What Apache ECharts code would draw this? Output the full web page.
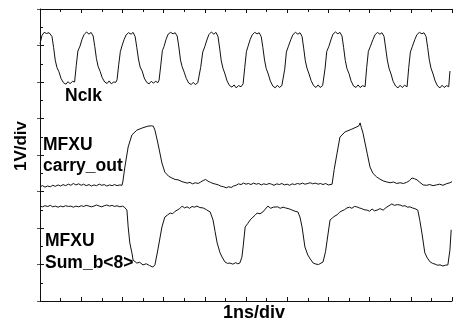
<!DOCTYPE html>
<html><head><meta charset="utf-8">
<script src="https://cdn.jsdelivr.net/npm/echarts@6/dist/echarts.min.js"></script>
<style>html,body{margin:0;padding:0;background:#fff}#c{width:453px;height:326px}</style>
</head><body><div id="c"></div>
<script>
// time in ns (1 ns/div), amplitude in V (1 V/div)
var timeRange = [0, 10];
var voltRange = [0, 8];
var xLabel = '1ns/div';
var yLabel = '1V/div';
var traceLabels = ['Nclk', 'MFXU', 'carry_out', 'MFXU', 'Sum_b<8>'];

var nclk = [
[0,7.05],[0.05,7.28],[0.1,7.36],[0.16,7.33],[0.22,7.35],[0.29,7.25],[0.33,6.95],[0.37,6.6],[0.41,6.4],[0.46,6.28],[0.51,6.1],[0.57,5.98],[0.63,5.94],[0.68,6.01],[0.73,5.95],[0.79,6.02],[0.84,6.0],
[0.88,6.45],[0.92,6.85],[0.97,6.98],[1.02,7.17],[1.07,7.3],[1.13,7.37],[1.19,7.31],[1.24,7.36],[1.29,7.26],[1.33,6.97],[1.37,6.64],[1.41,6.43],[1.46,6.29],[1.51,6.12],[1.57,6.0],[1.63,5.96],[1.68,6.03],[1.73,5.95],[1.79,6.0],[1.84,5.99],
[1.87,6.06],[1.91,6.47],[1.95,6.83],[1.99,6.99],[2.04,7.16],[2.09,7.29],[2.15,7.35],[2.21,7.31],[2.26,7.36],[2.31,7.24],[2.35,6.94],[2.39,6.63],[2.43,6.41],[2.48,6.3],[2.53,6.11],[2.59,5.99],[2.65,5.95],[2.7,6.02],[2.75,5.97],[2.81,6.02],[2.86,5.98],
[2.89,6.05],[2.93,6.44],[2.97,6.86],[3.01,6.97],[3.06,7.17],[3.11,7.31],[3.17,7.36],[3.23,7.32],[3.28,7.35],[3.33,7.26],[3.37,6.96],[3.41,6.6],[3.45,6.42],[3.5,6.27],[3.55,6.1],[3.61,5.97],[3.67,5.93],[3.72,5.99],[3.77,5.93],[3.83,5.98],[3.87,5.96],
[3.9,6.4],[3.95,6.82],[4.0,6.97],[4.05,7.15],[4.1,7.3],[4.16,7.37],[4.22,7.31],[4.27,7.36],[4.32,7.25],[4.36,6.93],[4.4,6.58],[4.44,6.38],[4.49,6.22],[4.54,6.03],[4.6,5.9],[4.66,5.86],[4.71,5.92],[4.76,5.84],[4.82,5.9],[4.88,5.87],
[4.93,5.95],[4.97,6.4],[5.01,6.83],[5.05,6.98],[5.1,7.16],[5.15,7.29],[5.21,7.36],[5.27,7.32],[5.32,7.35],[5.37,7.24],[5.41,6.94],[5.45,6.6],[5.49,6.37],[5.54,6.22],[5.59,6.03],[5.65,5.89],[5.71,5.84],[5.76,5.91],[5.81,5.85],[5.87,5.9],[5.91,5.88],
[5.94,6.35],[5.98,6.82],[6.03,6.98],[6.09,7.17],[6.14,7.3],[6.2,7.36],[6.26,7.31],[6.31,7.35],[6.36,7.25],[6.4,6.93],[6.44,6.58],[6.48,6.38],[6.53,6.22],[6.58,6.04],[6.64,5.9],[6.7,5.85],[6.75,5.92],[6.8,5.85],[6.86,5.9],[6.89,5.88],
[6.92,6.38],[6.96,6.84],[7.01,6.97],[7.06,7.15],[7.11,7.31],[7.17,7.37],[7.23,7.32],[7.28,7.36],[7.33,7.26],[7.37,6.94],[7.41,6.59],[7.45,6.37],[7.5,6.23],[7.55,6.03],[7.61,5.89],[7.67,5.85],[7.72,5.92],[7.77,5.85],[7.83,5.9],[7.89,5.87],
[7.93,6.4],[7.97,6.84],[8.02,6.98],[8.08,7.16],[8.13,7.29],[8.19,7.36],[8.25,7.31],[8.3,7.35],[8.35,7.25],[8.39,6.93],[8.43,6.6],[8.47,6.38],[8.52,6.22],[8.57,6.02],[8.63,5.89],[8.69,5.84],[8.74,5.91],[8.79,5.85],[8.85,5.91],[8.91,5.87],
[8.95,6.4],[8.99,6.82],[9.04,6.98],[9.1,7.17],[9.15,7.3],[9.21,7.36],[9.27,7.32],[9.32,7.35],[9.37,7.25],[9.41,6.94],[9.45,6.6],[9.49,6.38],[9.54,6.22],[9.59,6.03],[9.65,5.89],[9.71,5.84],[9.76,5.91],[9.81,5.85],[9.87,5.9],[9.92,5.87],[9.95,6.3]
];

var carryOut = [
[0,3.13],[0.06,3.16],[0.12,3.12],[0.18,3.15],[0.25,3.13],[0.31,3.17],[0.37,3.14],[0.44,3.18],[0.5,3.15],[0.56,3.19],[0.62,3.16],[0.69,3.2],[0.75,3.17],[0.81,3.22],[0.87,3.18],[0.94,3.21],[1.0,3.17],[1.06,3.2],[1.12,3.16],[1.19,3.19],[1.25,3.15],[1.31,3.18],[1.37,3.16],[1.44,3.2],[1.5,3.17],[1.56,3.19],[1.62,3.15],[1.69,3.18],[1.75,3.16],[1.81,3.19],[1.87,3.16],[1.94,3.18],[1.99,3.17],
[2.01,3.26],[2.06,3.67],[2.14,4.22],[2.23,4.55],[2.35,4.68],[2.48,4.74],[2.62,4.79],[2.7,4.8],[2.75,4.79],[2.79,4.68],[2.86,4.33],[2.96,3.78],[3.03,3.53],[3.12,3.42],[3.2,3.37],[3.28,3.33],[3.35,3.32],[3.45,3.27],[3.57,3.23],
[3.64,3.25],[3.7,3.21],[3.77,3.24],[3.84,3.22],[3.9,3.26],[3.96,3.3],[4.02,3.33],[4.08,3.28],[4.14,3.25],[4.2,3.22],[4.27,3.2],[4.33,3.18],[4.4,3.14],[4.46,3.13],[4.52,3.1],[4.58,3.13],[4.64,3.11],[4.7,3.15],[4.76,3.17],[4.82,3.21],[4.88,3.19],[4.94,3.23],[5.0,3.2],[5.06,3.22],[5.12,3.19],[5.18,3.23],[5.25,3.2],[5.31,3.22],[5.37,3.18],[5.43,3.21],[5.5,3.19],[5.56,3.22],[5.62,3.2],[5.68,3.17],[5.75,3.21],[5.81,3.19],[5.87,3.22],[5.93,3.18],[6.0,3.2],[6.06,3.17],[6.12,3.21],[6.18,3.19],[6.25,3.22],[6.31,3.2],[6.37,3.23],[6.43,3.2],[6.5,3.22],[6.56,3.24],[6.62,3.21],[6.68,3.23],[6.75,3.2],[6.81,3.22],[6.87,3.19],[6.93,3.22],[7.0,3.18],[7.04,3.21],[7.09,3.2],
[7.14,3.6],[7.21,4.05],[7.28,4.49],[7.4,4.63],[7.57,4.71],[7.69,4.77],[7.74,4.8],[7.77,4.88],[7.8,4.75],[7.84,4.6],[7.94,4.05],[8.01,3.67],[8.08,3.5],[8.17,3.4],[8.25,3.34],[8.33,3.29],[8.42,3.26],
[8.5,3.24],[8.58,3.26],[8.66,3.22],[8.74,3.24],[8.82,3.22],[8.9,3.25],[8.97,3.3],[9.03,3.37],[9.09,3.35],[9.15,3.32],[9.22,3.25],[9.3,3.18],[9.38,3.17],[9.46,3.19],[9.54,3.16],[9.62,3.18],[9.7,3.2],[9.78,3.17],[9.86,3.21],[9.95,3.24],[10,3.27]
];

var sumB8 = [
[0,2.6],[0.06,2.58],[0.12,2.61],[0.19,2.59],[0.25,2.62],[0.31,2.58],[0.37,2.6],[0.44,2.57],[0.5,2.6],[0.56,2.58],[0.62,2.61],[0.69,2.59],[0.75,2.6],[0.81,2.57],[0.87,2.6],[0.94,2.58],[1.0,2.61],[1.06,2.59],[1.12,2.62],[1.19,2.6],[1.25,2.58],[1.31,2.6],[1.37,2.63],[1.44,2.6],[1.5,2.58],[1.56,2.61],[1.62,2.63],[1.69,2.6],[1.75,2.62],[1.81,2.59],[1.87,2.61],[1.94,2.58],[2.0,2.6],[2.05,2.57],[2.08,2.57],
[2.11,2.49],[2.14,2.03],[2.18,1.59],[2.23,1.32],[2.26,1.12],[2.3,1.08],[2.35,1.04],[2.42,1.06],[2.5,0.99],[2.58,1.02],[2.66,0.97],[2.74,0.93],[2.79,0.99],
[2.86,1.4],[2.96,2.03],[3.03,2.3],[3.1,2.36],[3.16,2.41],[3.22,2.39],[3.28,2.46],[3.33,2.49],[3.39,2.53],[3.45,2.6],[3.51,2.55],[3.57,2.58],[3.63,2.54],[3.69,2.59],[3.75,2.57],[3.81,2.6],[3.88,2.56],[3.96,2.55],[4.04,2.5],[4.13,2.44],
[4.2,2.22],[4.25,1.9],[4.3,1.59],[4.37,1.32],[4.43,1.18],[4.49,1.07],[4.55,1.03],[4.61,1.04],[4.68,1.01],[4.75,1.05],[4.8,1.02],[4.85,1.04],
[4.9,1.2],[4.93,1.48],[4.98,2.03],[5.04,2.12],[5.1,2.22],[5.17,2.3],[5.22,2.35],[5.27,2.41],[5.34,2.39],[5.41,2.44],[5.47,2.52],[5.53,2.6],[5.6,2.54],[5.66,2.57],[5.7,2.55],[5.77,2.58],[5.83,2.54],[5.9,2.57],[5.96,2.55],[6.0,2.58],[6.06,2.52],[6.12,2.49],[6.19,2.46],[6.26,2.44],
[6.31,2.3],[6.36,2.03],[6.43,1.48],[6.5,1.26],[6.56,1.15],[6.63,1.04],[6.7,1.01],[6.76,1.0],[6.8,0.99],[6.87,1.07],
[6.93,1.35],[6.97,1.67],[7.04,2.22],[7.1,2.28],[7.16,2.33],[7.21,2.36],[7.27,2.43],[7.33,2.47],[7.39,2.5],[7.45,2.55],[7.51,2.57],[7.57,2.54],[7.63,2.59],[7.69,2.58],[7.75,2.55],[7.81,2.53],[7.87,2.5],[7.94,2.49],[8.0,2.46],[8.06,2.52],[8.12,2.47],[8.18,2.49],[8.25,2.53],[8.33,2.49],[8.4,2.56],[8.47,2.61],[8.54,2.66],[8.6,2.62],[8.67,2.64],[8.74,2.63],[8.8,2.6],[8.86,2.61],[8.92,2.57],[8.98,2.58],[9.04,2.55],[9.1,2.53],[9.17,2.49],
[9.22,2.2],[9.27,1.86],[9.34,1.32],[9.4,1.18],[9.47,1.07],[9.53,1.03],[9.59,1.01],[9.65,0.98],[9.71,0.99],[9.78,0.96],[9.84,0.98],[9.9,0.99],[9.95,1.4],[9.98,1.95]
];

var chart = echarts.init(document.getElementById('c'), null, {renderer: 'canvas'});
var FONT = '"Liberation Sans", Arial, Helvetica, sans-serif';
var ink = '#111';

function xAx(pos) {
  return {
    type: 'value', position: pos, min: timeRange[0], max: timeRange[1], interval: 1,
    axisLine: {show: true, onZero: false, lineStyle: {color: ink, width: 1}},
    axisTick: {show: true, inside: true, length: 4, lineStyle: {color: ink, width: 1}},
    minorTick: {show: true, splitNumber: 2, length: 3, lineStyle: {color: ink, width: 1}},
    axisLabel: {show: false}, splitLine: {show: false}, minorSplitLine: {show: false}
  };
}

function series(data) {
  return {
    type: 'line', data: data, symbol: 'none', smooth: false,
    lineStyle: {color: ink, width: 1}, silent: true, animation: false
  };
}

function txt(x, y, s, size, extra) {
  var o = {
    type: 'text', x: x, y: y, silent: true,
    style: {text: s, font: 'bold ' + size + 'px ' + FONT, fill: '#000',
      align: 'left', verticalAlign: 'middle', textAlign: 'left', textVerticalAlign: 'middle'}
  };
  if (extra) { for (var k in extra) o[k] = extra[k]; }
  return o;
}

var centerStyle = function (o) { o.style.align = 'center'; o.style.textAlign = 'center'; return o; };

chart.setOption({
  animation: false,
  backgroundColor: '#fff',
  grid: {left: 40, right: 1, top: 9, bottom: 25, containLabel: false},
  xAxis: [xAx('bottom'), xAx('top')],
  yAxis: [
    {
      type: 'value', position: 'left', min: voltRange[0], max: voltRange[1], interval: 1,
      axisLine: {show: true, onZero: false, lineStyle: {color: ink, width: 1}},
      axisTick: {show: true, inside: true, length: 4, lineStyle: {color: ink, width: 1}},
      minorTick: {show: true, splitNumber: 2, length: 3, lineStyle: {color: ink, width: 1}},
      axisLabel: {show: false}, splitLine: {show: false}
    },
    {
      type: 'value', position: 'right', min: voltRange[0], max: voltRange[1], interval: 1,
      axisLine: {show: false},
      axisTick: {show: true, inside: true, length: 3, lineStyle: {color: '#555', width: 1}},
      axisLabel: {show: false}, splitLine: {show: false}
    }
  ],
  series: [series(nclk), series(carryOut), series(sumB8)],
  graphic: [
    txt(65, 96, traceLabels[0], 17.5),
    txt(43, 145, traceLabels[1], 17.5),
    txt(43, 166, traceLabels[2], 17.5),
    txt(45, 241, traceLabels[3], 17.5),
    txt(45, 263, traceLabels[4], 17.5),
    centerStyle(txt(254, 313, xLabel, 18)),
    centerStyle(txt(21, 146, yLabel, 17, {rotation: Math.PI / 2}))
  ]
});
</script>
</body></html>
